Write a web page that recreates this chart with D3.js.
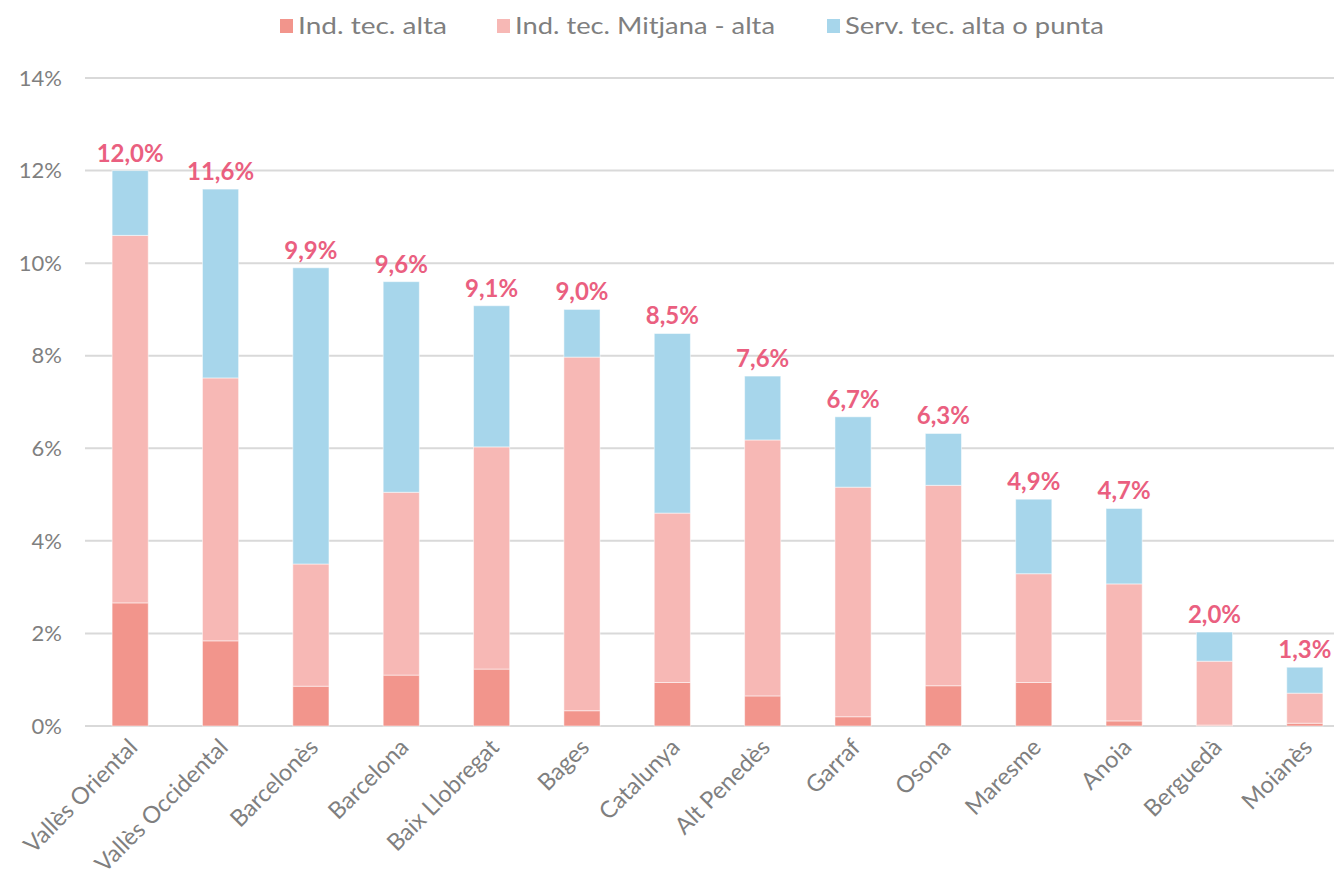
<!DOCTYPE html>
<html>
<head>
<meta charset="utf-8">
<script src="https://cdn.jsdelivr.net/npm/d3@7"></script>
<style>
  body { margin: 0; background: #fff; }
  text { font-family: Lato, "Open Sans", sans-serif; }
</style>
</head>
<body>
<div id="chart"></div>
<script>
// data
const comarques = ["Vallès Oriental", "Vallès Occidental", "Barcelonès", "Barcelona", "Baix Llobregat", "Bages",
  "Catalunya", "Alt Penedès", "Garraf", "Osona", "Maresme", "Anoia", "Berguedà", "Moianès"];
const indAlta    = [2.66, 1.84, 0.86, 1.10, 1.23, 0.33, 0.94, 0.65, 0.20, 0.87, 0.94, 0.11, 0.02, 0.06];
const indMitjana = [7.94, 5.68, 2.64, 3.95, 4.80, 7.64, 3.66, 5.53, 4.96, 4.33, 2.35, 2.96, 1.38, 0.65];
const servAlta   = [1.40, 4.08, 6.40, 4.55, 3.05, 1.03, 3.88, 1.38, 1.52, 1.12, 1.61, 1.63, 0.63, 0.56];
const totals     = ["12,0%", "11,6%", "9,9%", "9,6%", "9,1%", "9,0%", "8,5%", "7,6%", "6,7%", "6,3%", "4,9%", "4,7%", "2,0%", "1,3%"];
const yTicks = [0, 2, 4, 6, 8, 10, 12, 14];
const keys = ["Ind. tec. alta", "Ind. tec. Mitjana - alta", "Serv. tec. alta o punta"];
const palette = ["#f2958c", "#f7b8b5", "#a7d6eb"];

const W = 1334, H = 883;
const svg = d3.select("#chart").append("svg")
  .attr("width", W).attr("height", H);

/* scales */
var x = d3.scaleBand().domain(comarques).range([85, 1350]).paddingInner(0.6).paddingOuter(0.3);
var y = d3.scaleLinear().domain([0, 14]).range([726, 78]);

// gridlines
svg.append("g").selectAll("line").data(yTicks).enter().append("line")
  .attr("x1", 85).attr("x2", W)
  .attr("y1", d => y(d)).attr("y2", d => y(d))
  .style("stroke", "#d9d9d9").style("stroke-width", 2);

// y tick labels
svg.append("g").selectAll("text").data(yTicks).enter().append("text")
  .attr("x", 62).attr("y", d => y(d)).attr("dy", "0.35em")
  .attr("text-anchor", "end").attr("font-size", "22px").attr("fill", "#7f7f7f")
  .text(d => d + "%");

/* stack */
var rows = comarques.map((c, i) => ({ name: c, a: indAlta[i], m: indMitjana[i], s: servAlta[i], label: totals[i] }));
var series = d3.stack().keys(["a", "m", "s"])(rows);

svg.append("g").selectAll("g").data(series).enter().append("g")
  .style("fill", (d, i) => palette[i])
  .selectAll("rect").data(d => d).enter().append("rect")
  .attr("x", d => x(d.data.name))
  .attr("width", x.bandwidth())
  .attr("y", d => y(d[1]))
  .attr("height", d => y(d[0]) - y(d[1]))
  .style("stroke", "#ffffff").style("stroke-opacity", 0.5).style("stroke-width", 1);

// total labels
svg.append("g").selectAll("text").data(rows).enter().append("text")
  .attr("x", d => x(d.name) + x.bandwidth() / 2)
  .attr("y", d => y(d.a + d.m + d.s) - 9)
  .attr("text-anchor", "middle").attr("font-size", "24px").attr("font-weight", "bold")
  .attr("fill", "#ea5f80")
  .text(d => d.label);

// x labels
svg.append("g").selectAll("text").data(comarques).enter().append("text")
  .attr("transform", d => "translate(" + (x(d) + x.bandwidth() / 2 + 3) + ",743) rotate(-45)")
  .attr("text-anchor", "end").attr("dy", "0.35em")
  .attr("font-size", "23.5px").attr("fill", "#7f7f7f")
  .text(d => d);

// legend
var legX = [280, 497, 827];
var legW = [149, 260, 259];
var legend = svg.append("g").selectAll("g").data(keys).enter().append("g");
legend.append("rect")
  .attr("x", (d, i) => legX[i]).attr("y", 19)
  .attr("width", 13).attr("height", 14)
  .style("fill", (d, i) => palette[i]);
legend.append("text")
  .attr("x", (d, i) => legX[i] + 18).attr("y", 26).attr("dy", "0.35em")
  .attr("font-size", "24px").attr("fill", "#7f7f7f")
  .attr("textLength", (d, i) => legW[i]).attr("lengthAdjust", "spacingAndGlyphs")
  .text(d => d);
</script>
</body>
</html>
